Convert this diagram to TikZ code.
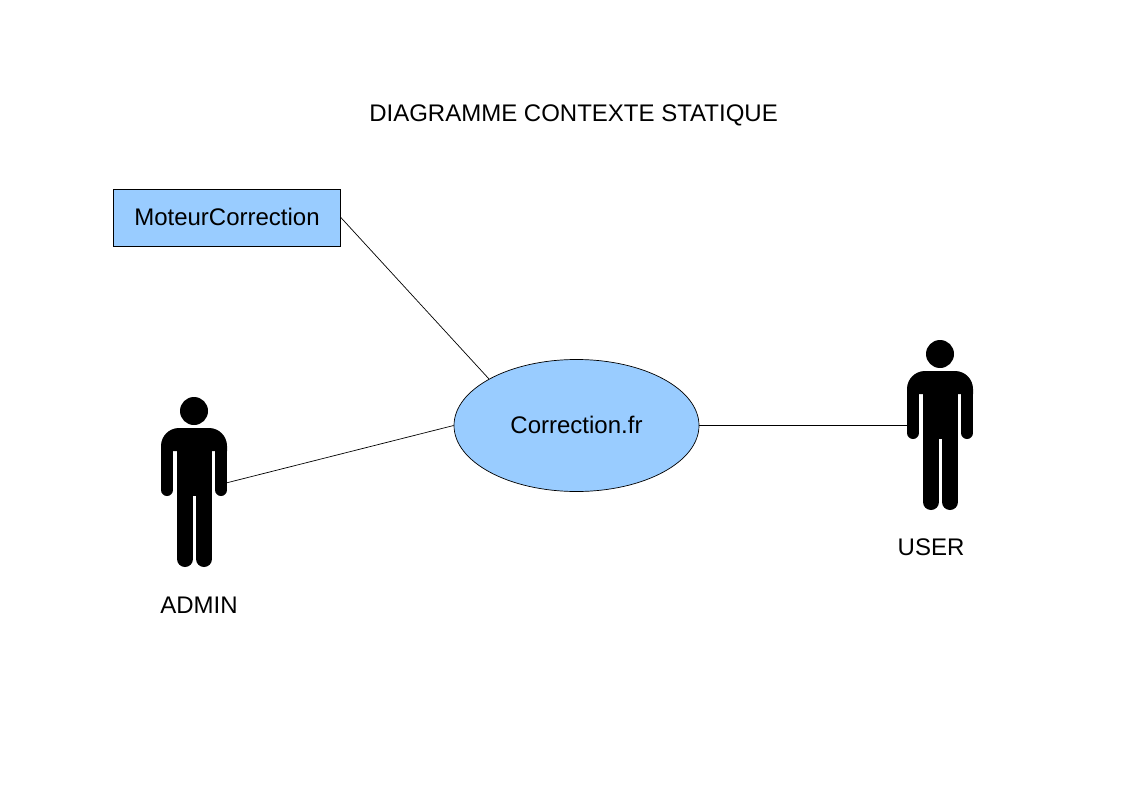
\documentclass[tikz,border=0pt]{standalone}
\usepackage{fontspec}
\setmainfont{Liberation Sans}
\usetikzlibrary{shapes.geometric}
\definecolor{fillblue}{HTML}{99CCFF}
\tikzset{x=1pt,y=-1pt,
 lbl/.style={inner sep=0pt,font=\fontsize{24}{28}\selectfont,text=black},
 box/.style={lbl,draw=black,line width=0.7pt,fill=fillblue,rectangle,minimum width=227pt,minimum height=57pt},
 oval/.style={lbl,draw=black,line width=0.7pt,fill=fillblue,ellipse,minimum width=245pt,minimum height=132pt},
 conn/.style={draw=black,line width=0.7pt},
 limb/.style={draw=black,line cap=round,line width=12pt},
 leg/.style={draw=black,line cap=round,line width=16pt}}
\newcommand{\stickman}[2]{%
 \begin{scope}[shift={(#1,#2)}]
  \fill (0,-17) circle (14);
  \fill (-33,23) [rounded corners=18pt] -- (-33,0) -- (33,0) [sharp corners] -- (33,23) -- cycle;
  \draw[limb] (-27,20) -- (-27,62);
  \draw[limb] (27,20) -- (27,62);
  \fill (-17,10) rectangle (18,68);
  \draw[leg] (-9,60) -- (-9,131);
  \draw[leg] (10,60) -- (10,131);
 \end{scope}}
\begin{document}
\begin{tikzpicture}
\useasboundingbox (0,0) rectangle (1123,794);
\node[lbl] (title) at (573.5,115) {DIAGRAMME CONTEXTE STATIQUE};
\node[box] (moteur) at (227,217.5) {\raisebox{1pt}{MoteurCorrection}};
\node[oval] (corr) at (576.5,425.5) {\raisebox{1pt}{Correction.fr}};
\stickman{194}{428}
\stickman{940}{371}
\coordinate (adminhand) at (226,483);
\coordinate (userhand) at (908,425.5);
\draw[conn] (moteur.east) -- (corr.152);
\draw[conn] (adminhand) -- (corr.west);
\draw[conn] (corr.east) -- (userhand);
\node[lbl] (adminlbl) at (199,605) {ADMIN};
\node[lbl] (userlbl) at (931,547) {USER};
\end{tikzpicture}
\end{document}
